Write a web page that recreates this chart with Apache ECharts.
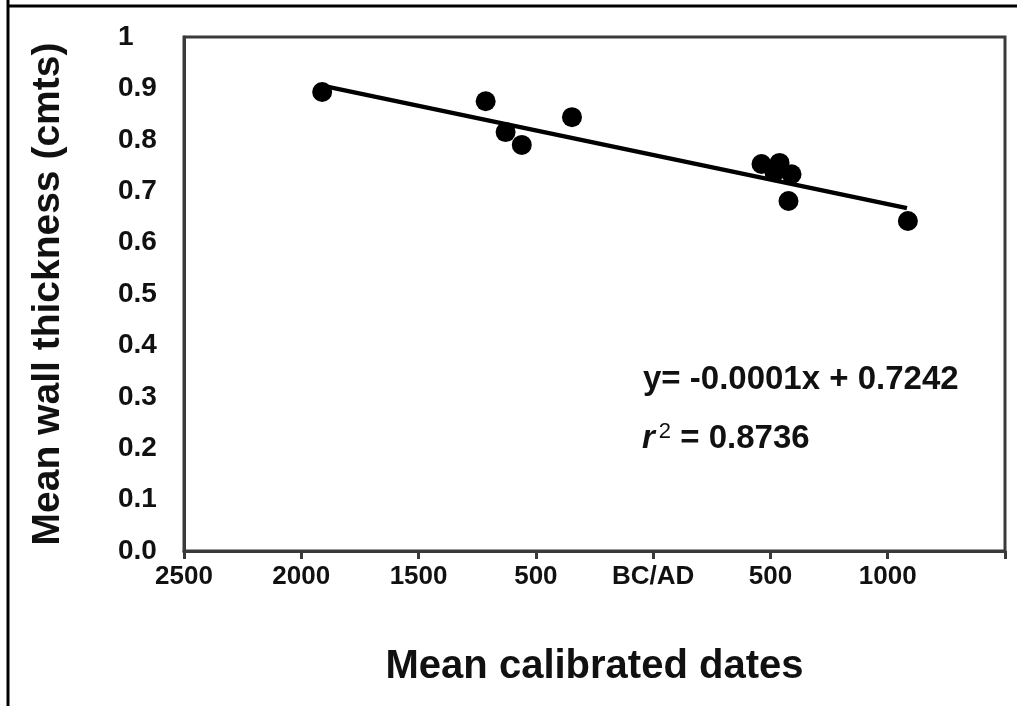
<!DOCTYPE html>
<html>
<head>
<meta charset="utf-8">
<script src="https://cdn.jsdelivr.net/npm/echarts@6/dist/echarts.min.js"></script>
<style>
html,body{margin:0;padding:0;background:#fff;}
#chart{width:1017px;height:706px;}
</style>
</head>
<body>
<div id="chart"></div>
<script>
// x values: calendar years (BC negative), y values: mean wall thickness (cm)
const pointYears = [-1411, -714, -629, -560, -346, 462, 539, 517, 590, 577, 1086];
const pointThickness = [0.893, 0.875, 0.815, 0.790, 0.844, 0.753, 0.755, 0.737, 0.733, 0.681, 0.642];
const fitYears = [-1386, 1082];
const fitThickness = [0.903, 0.667];
const xTickValues = [-2000, -1500, -1000, -500, 0, 500, 1000, 1500];
const xTickLabels = ['2500', '2000', '1500', '500', 'BC/AD', '500', '1000', ''];
const yTickLabels = ['0.0', '0.1', '0.2', '0.3', '0.4', '0.5', '0.6', '0.7', '0.8', '0.9', '1'];
const equationText = 'y= -0.0001x + 0.7242';
const r2Value = '0.8736';

const chart = echarts.init(document.getElementById('chart'));
const font = 'Liberation Sans, Arial, sans-serif';
const axisColor = '#3a3a3a';
const textColor = '#111';

chart.setOption({
  backgroundColor: '#ffffff',
  animation: false,
  grid: { left: 184, right: 12, top: 37, bottom: 155, show: true, borderColor: axisColor, borderWidth: 3 },
  xAxis: {
    type: 'value', min: -2000, max: 1500, interval: 500,
    name: 'Mean calibrated dates', nameLocation: 'middle', nameGap: 96,
    nameTextStyle: { fontFamily: font, fontWeight: 'bold', fontSize: 40, color: textColor, verticalAlign: 'top' },
    axisLine: { show: true, onZero: false, lineStyle: { color: axisColor, width: 3 } },
    axisTick: { show: true, length: 8, lineStyle: { color: axisColor, width: 3 } },
    splitLine: { show: false },
    axisLabel: {
      margin: 13, fontFamily: font, fontWeight: 'bold', fontSize: 26, color: textColor,
      formatter: function (v) { const i = xTickValues.indexOf(v); return i >= 0 ? xTickLabels[i] : ''; }
    }
  },
  yAxis: {
    type: 'value', min: 0, max: 1, interval: 0.1,
    name: 'Mean wall thickness (cmts)', nameLocation: 'middle', nameGap: 116, nameRotate: 90,
    nameTextStyle: { fontFamily: font, fontWeight: 'bold', fontSize: 39, color: textColor },
    axisLine: { show: true, onZero: false, lineStyle: { color: axisColor, width: 3 } },
    axisTick: { show: false },
    splitLine: { show: false },
    axisLabel: {
      margin: 66, align: 'left', fontFamily: font, fontWeight: 'bold', fontSize: 28, color: textColor,
      formatter: function (v) { return yTickLabels[Math.round(v * 10)]; }
    }
  },
  series: [
    {
      type: 'line',
      data: fitYears.map((x, i) => [x, fitThickness[i]]),
      symbol: 'none',
      lineStyle: { color: '#000', width: 4.5 },
      z: 2
    },
    {
      type: 'scatter',
      data: pointYears.map((x, i) => [x, pointThickness[i]]),
      symbol: 'circle',
      symbolSize: 20,
      itemStyle: { color: '#000', opacity: 1 },
      z: 3
    }
  ],
  graphic: [
    { type: 'line', shape: { x1: 8, y1: 0, x2: 8, y2: 706 }, style: { stroke: '#000', lineWidth: 3 } },
    { type: 'line', shape: { x1: 7, y1: 6, x2: 1017, y2: 6 }, style: { stroke: '#000', lineWidth: 3 } },
    {
      type: 'text', left: 643, top: 363,
      style: { text: equationText, font: 'bold 33px ' + font, fill: textColor }
    },
    {
      type: 'text', left: 642, top: 421,
      style: {
        text: '{i|r}{s|2}{n| = ' + r2Value + '}',
        rich: {
          i: { font: 'italic bold 33px ' + font, fill: textColor, lineHeight: 38 },
          s: { font: '22px ' + font, fill: textColor, padding: [0, 0, 14, 4], lineHeight: 38 },
          n: { font: 'bold 33px ' + font, fill: textColor, lineHeight: 38 }
        }
      }
    }
  ]
});
</script>
</body>
</html>
